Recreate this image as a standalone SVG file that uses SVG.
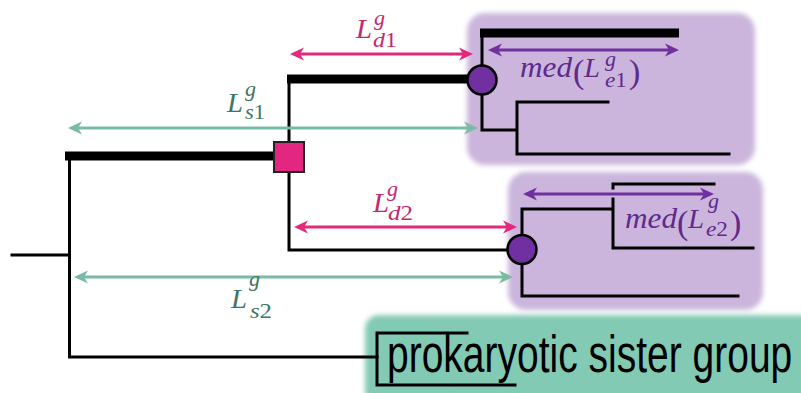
<svg xmlns="http://www.w3.org/2000/svg" width="801" height="393" viewBox="0 0 801 393">
<style>
.br{fill:none;stroke:#000;stroke-width:3;stroke-linecap:square}
.thick{fill:none;stroke:#000;stroke-width:9}
.ar{fill:none;stroke-width:3}
.m{font-family:"Liberation Serif","DejaVu Serif",serif;font-style:italic}
.n{font-style:normal}
</style>
<defs>
<filter id="soft" x="-10%" y="-10%" width="120%" height="120%"><feGaussianBlur stdDeviation="2.5"/></filter>
<marker id="mp" viewBox="0 0 14 14" refX="10" refY="7" markerWidth="14" markerHeight="14" markerUnits="userSpaceOnUse" orient="auto-start-reverse"><path d="M0,0.5 L14,7 L0,13.5 L4,7 z" fill="#e4287c"/></marker>
<marker id="mt" viewBox="0 0 14 14" refX="10" refY="7" markerWidth="14" markerHeight="14" markerUnits="userSpaceOnUse" orient="auto-start-reverse"><path d="M0,0.5 L14,7 L0,13.5 L4,7 z" fill="#7bbaa3"/></marker>
<marker id="mv" viewBox="0 0 14 14" refX="10" refY="7" markerWidth="14" markerHeight="14" markerUnits="userSpaceOnUse" orient="auto-start-reverse"><path d="M0,0.5 L14,7 L0,13.5 L4,7 z" fill="#7030a0"/></marker>
</defs>
<rect width="801" height="393" fill="#fff"/>

<g id="box-e1"><rect x="467" y="13" width="288" height="152" rx="18" fill="#cbb5dc" filter="url(#soft)"/></g>
<g id="box-e2"><rect x="508" y="172" width="255" height="138" rx="18" fill="#cbb5dc" filter="url(#soft)"/></g>
<g id="box-sister"><rect x="365" y="315" width="450" height="90" rx="14" fill="#83cab4" filter="url(#soft)"/></g>

<g id="tree">
<path class="br" d="M12,255 H69.5 M69.5,156 V357 H377"/>
<path class="thick" d="M65,156 H276"/>
<path class="br" d="M289,83 V250 H508"/>
<path class="thick" d="M287,79 H470"/>
<path class="br" d="M482,33 V130 H517 M517,102 V154 H729 M517,102 H608"/>
<path class="thick" d="M480,33 H679"/>
<path class="br" d="M522,296 V209 H613 V199 M613,248 H753 M613,248 V199 M613,188 V184 H714 M522,296 H738"/>
<path class="br" d="M377,333 V385 H515 M377,333 H467"/>
</g>

<g id="node-dup"><rect x="274" y="142" width="30" height="30" fill="#e3267f" stroke="#222" stroke-width="2"/></g>
<g id="node-e1"><circle cx="482" cy="80" r="14.5" fill="#7030a0" stroke="#000" stroke-width="2.5"/></g>
<g id="node-e2"><circle cx="522" cy="249.5" r="14.5" fill="#7030a0" stroke="#000" stroke-width="2.5"/></g>

<g id="connectors">
<line class="ar" x1="294" y1="54" x2="469" y2="54" stroke="#e4287c" marker-start="url(#mp)" marker-end="url(#mp)"/>
<line class="ar" x1="298" y1="227" x2="513" y2="227" stroke="#e4287c" marker-start="url(#mp)" marker-end="url(#mp)"/>
<line class="ar" x1="72" y1="128" x2="474" y2="128" stroke="#7bbaa3" marker-start="url(#mt)" marker-end="url(#mt)"/>
<line class="ar" x1="78" y1="277" x2="509" y2="277" stroke="#7bbaa3" marker-start="url(#mt)" marker-end="url(#mt)"/>
<line class="ar" x1="492" y1="50" x2="675" y2="50" stroke="#7030a0" marker-start="url(#mv)" marker-end="url(#mv)"/>
<line class="ar" x1="527" y1="194" x2="710" y2="194" stroke="#7030a0" marker-start="url(#mv)" marker-end="url(#mv)"/>
</g>

<g id="labels" class="m">
<g fill="#c2296f">
<text x="356" y="38" font-size="27" textLength="16" lengthAdjust="spacingAndGlyphs">L</text>
<text x="374" y="25" font-size="22">g</text>
<text x="373" y="47" font-size="22" textLength="24" lengthAdjust="spacingAndGlyphs">d<tspan class="n">1</tspan></text>
<text x="373" y="212" font-size="27" textLength="16" lengthAdjust="spacingAndGlyphs">L</text>
<text x="387" y="196" font-size="22">g</text>
<text x="388" y="220" font-size="22" textLength="25" lengthAdjust="spacingAndGlyphs">d<tspan class="n">2</tspan></text>
</g>
<g fill="#3d7663">
<text x="227" y="112" font-size="27" textLength="16" lengthAdjust="spacingAndGlyphs">L</text>
<text x="245" y="96" font-size="22">g</text>
<text x="245" y="119" font-size="22" textLength="20" lengthAdjust="spacingAndGlyphs">s<tspan class="n">1</tspan></text>
<text x="231" y="308" font-size="27" textLength="16" lengthAdjust="spacingAndGlyphs">L</text>
<text x="249" y="286" font-size="22">g</text>
<text x="250" y="318" font-size="22" textLength="22" lengthAdjust="spacingAndGlyphs">s<tspan class="n">2</tspan></text>
</g>
<g fill="#5f2a8c">
<text x="520" y="77" font-size="29" textLength="52" lengthAdjust="spacingAndGlyphs">med</text>
<text x="573" y="83" font-size="34" class="n">(</text>
<text x="584" y="77" font-size="27" textLength="16" lengthAdjust="spacingAndGlyphs">L</text>
<text x="605" y="66" font-size="22">g</text>
<text x="605" y="87" font-size="22" textLength="22" lengthAdjust="spacingAndGlyphs">e<tspan class="n">1</tspan></text>
<text x="629" y="83" font-size="34" class="n">)</text>
<text x="625" y="228" font-size="29" textLength="52" lengthAdjust="spacingAndGlyphs">med</text>
<text x="677" y="234" font-size="34" class="n">(</text>
<text x="688" y="228" font-size="27" textLength="16" lengthAdjust="spacingAndGlyphs">L</text>
<text x="708" y="208" font-size="22">g</text>
<text x="706" y="236" font-size="22" textLength="22" lengthAdjust="spacingAndGlyphs">e<tspan class="n">2</tspan></text>
<text x="730" y="234" font-size="34" class="n">)</text>
</g>
</g>

<g id="sister-label"><text transform="translate(387,372) scale(0.75,1)" x="0" y="0" font-family="Liberation Sans, Arial, sans-serif" font-size="52" fill="#000">prokaryotic sister group</text></g>
</svg>
